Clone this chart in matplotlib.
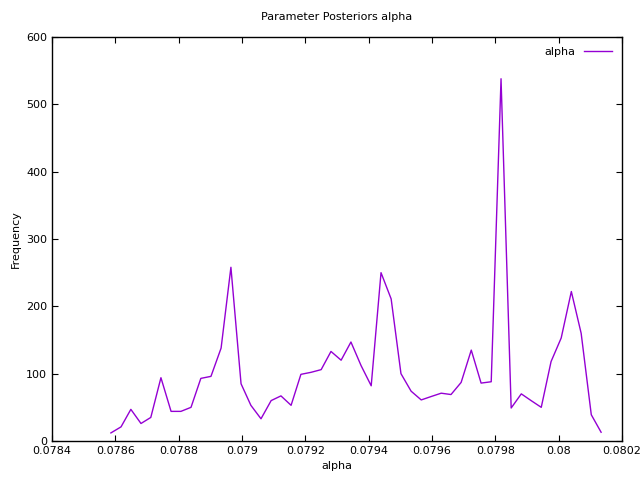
import matplotlib
matplotlib.use("Agg")
import matplotlib.pyplot as plt

alpha_x = [0.078586, 0.078618, 0.078649, 0.078681, 0.078712, 0.078744, 0.078776, 0.078807, 0.078839, 0.078870,
           0.078902, 0.078934, 0.078965, 0.078997, 0.079028, 0.079060, 0.079092, 0.079123, 0.079155, 0.079186,
           0.079218, 0.079250, 0.079281, 0.079313, 0.079344, 0.079376, 0.079408, 0.079439, 0.079471, 0.079502,
           0.079534, 0.079566, 0.079597, 0.079629, 0.079660, 0.079692, 0.079724, 0.079755, 0.079787, 0.079818,
           0.079850, 0.079882, 0.079913, 0.079945, 0.079976, 0.080008, 0.080040, 0.080071, 0.080103, 0.080134]
frequency = [12, 21, 47, 26, 35, 94, 44, 44, 50, 93,
             96, 138, 258, 85, 53, 33, 60, 67, 53, 99,
             102, 106, 133, 120, 147, 112, 82, 250, 211, 100,
             74, 61, 66, 71, 69, 87, 135, 86, 88, 538,
             49, 70, 60, 50, 118, 153, 222, 160, 39, 13]
xticks = [0.0784, 0.0786, 0.0788, 0.079, 0.0792, 0.0794, 0.0796, 0.0798, 0.08, 0.0802]
xticklabels = ["0.0784", "0.0786", "0.0788", "0.079", "0.0792", "0.0794", "0.0796", "0.0798", "0.08", "0.0802"]

fig = plt.figure(figsize=(6.4, 4.8), dpi=100)
ax = fig.add_axes([52/640, 39/480, 570/640, 404/480])
ax.plot(alpha_x, frequency, color="#9400d3", lw=1, label="alpha")
ax.set_xlim(0.0784, 0.0802)
ax.set_ylim(0, 600)
ax.set_xticks(xticks)
ax.set_xticklabels(xticklabels)
ax.set_yticks(range(0, 601, 100))
ax.tick_params(direction="in", top=True, right=True, labelsize=8, length=4)
for s in ax.spines.values():
    s.set_linewidth(1)
ax.set_xlabel("alpha", fontsize=8)
ax.set_ylabel("Frequency", fontsize=8)
ax.set_title("Parameter Posteriors alpha", fontsize=8, pad=12)
leg = ax.legend(loc="upper right", frameon=False, fontsize=8, markerfirst=False, handlelength=2.5)
fig.savefig("out.png", dpi=100)
